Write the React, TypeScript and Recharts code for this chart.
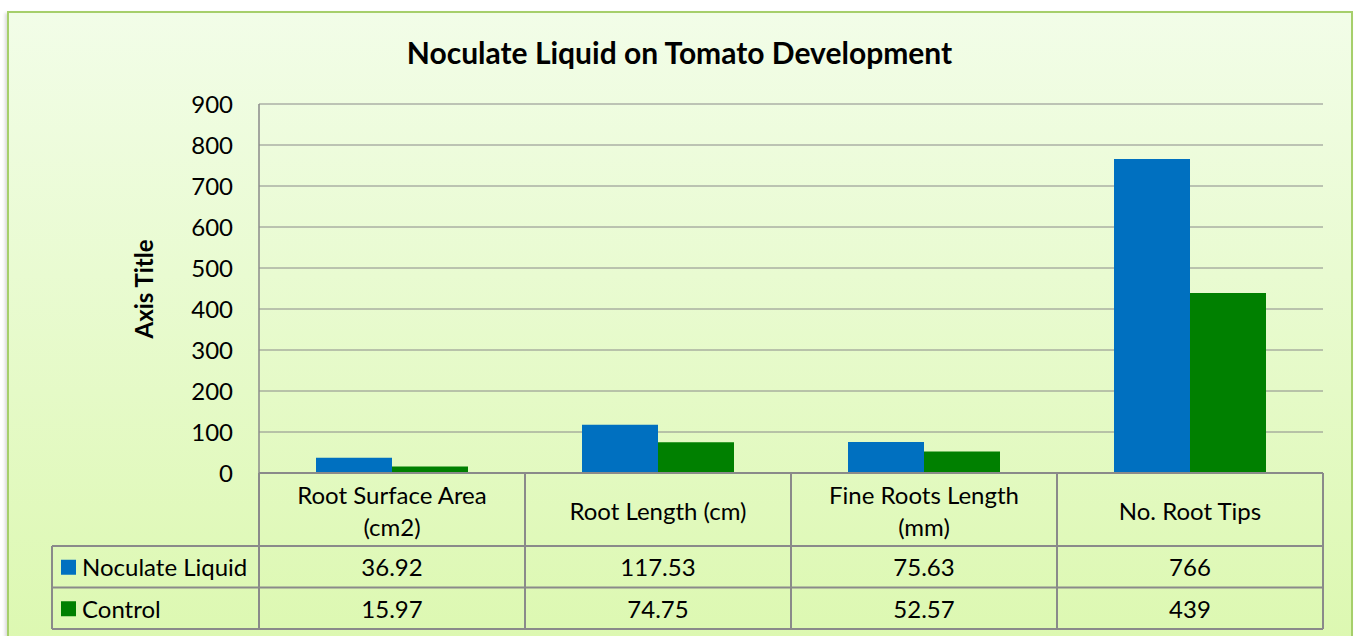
import { BarChart, Bar, XAxis, YAxis, CartesianGrid } from "recharts";

const categories = [
  "Root Surface Area (cm2)",
  "Root Length (cm)",
  "Fine Roots Length (mm)",
  "No. Root Tips",
];
const noculateLiquid = [36.92, 117.53, 75.63, 766];
const control = [15.97, 74.75, 52.57, 439];
const seriesNames = ["Noculate Liquid", "Control"];
const yTicks = [0, 100, 200, 300, 400, 500, 600, 700, 800, 900];

const BLUE = "#0070c0";
const GREEN = "#008000";
const LINE = "#8a8a8a";
const FONT = "Lato, 'Open Sans', sans-serif";
const FS = 24;

const W = 1359;
const H = 636;
const MARGIN = { top: 104, right: 36, left: 199, bottom: 0 };
const Y_AXIS_W = 60;
const X_AXIS_H = 163;
const BAND = (W - MARGIN.left - MARGIN.right - Y_AXIS_W) / categories.length;
const LEGEND_COL_W = 207;
const HEADER_H = 73;
const ROW_H = 41.5;
const WRAP_W = 215;
const LINE_H = 32;

const data = categories.map((name, i) => ({
  name,
  noculate: noculateLiquid[i],
  control: control[i],
}));

let ctx: CanvasRenderingContext2D | null = null;
function wrap(label: string): string[] {
  if (!ctx) ctx = document.createElement("canvas").getContext("2d");
  if (!ctx) return [label];
  ctx.font = `${FS}px ${FONT}`;
  const lines: string[] = [];
  let cur = "";
  for (const word of label.split(" ")) {
    const next = cur ? `${cur} ${word}` : word;
    if (cur && ctx.measureText(next).width > WRAP_W) {
      lines.push(cur);
      cur = word;
    } else {
      cur = next;
    }
  }
  if (cur) lines.push(cur);
  return lines;
}

function TableTick(props: any) {
  const { x, y, payload, index } = props;
  const i = payload?.index ?? index;
  const left = x - BAND / 2;
  const right = x + BAND / 2;
  const r1 = y + HEADER_H;
  const r2 = r1 + ROW_H;
  const r3 = r2 + ROW_H;
  const rows = [noculateLiquid[i], control[i]];
  const colors = [BLUE, GREEN];
  const lines = wrap(String(payload.value));
  const firstY = y + HEADER_H / 2 + 1 - ((lines.length - 1) * LINE_H) / 2;

  return (
    <g fontFamily={FONT} fontSize={FS} fill="#000">
      {lines.map((ln, k) => (
        <text
          key={k}
          x={x}
          y={firstY + k * LINE_H}
          textAnchor="middle"
          dominantBaseline="central"
        >
          {ln}
        </text>
      ))}
      <line x1={left} x2={left} y1={y} y2={r3} stroke={LINE} strokeWidth={2} />
      {i === categories.length - 1 && (
        <line x1={right} x2={right} y1={y} y2={r3} stroke={LINE} strokeWidth={2} />
      )}
      {[r1, r2, r3].map((ry) => (
        <line
          key={ry}
          x1={i === 0 ? left - LEGEND_COL_W : left}
          x2={right}
          y1={ry}
          y2={ry}
          stroke={LINE}
          strokeWidth={2}
        />
      ))}
      {i === 0 && (
        <line
          x1={left - LEGEND_COL_W}
          x2={left - LEGEND_COL_W}
          y1={r1}
          y2={r3}
          stroke={LINE}
          strokeWidth={2}
        />
      )}
      {rows.map((v, k) => (
        <text
          key={k}
          x={x}
          y={r1 + ROW_H * k + ROW_H / 2}
          textAnchor="middle"
          dominantBaseline="central"
        >
          {String(v)}
        </text>
      ))}
      {i === 0 &&
        seriesNames.map((s, k) => (
          <g key={s}>
            <rect
              x={left - LEGEND_COL_W + 9}
              y={r1 + ROW_H * k + ROW_H / 2 - 7}
              width={15}
              height={15}
              fill={colors[k]}
            />
            <text
              x={left - LEGEND_COL_W + 30}
              y={r1 + ROW_H * k + ROW_H / 2}
              dominantBaseline="central"
            >
              {s}
            </text>
          </g>
        ))}
    </g>
  );
}

export default function App() {
  return (
    <div
      style={{
        position: "absolute",
        left: 0,
        top: 0,
        width: W,
        height: H,
        overflow: "hidden",
        background: "#fff",
        fontFamily: FONT,
      }}
    >
      <div
        style={{
          position: "absolute",
          left: 7,
          top: 11,
          width: 1342,
          height: 640,
          border: "2px solid #a6cf6b",
          background: "linear-gradient(to bottom, #f2fde8 0%, #dcf8b0 100%)",
          boxShadow: "-2px 2px 3px rgba(0,0,0,0.15)",
        }}
      />
      <div
        style={{
          position: "absolute",
          left: 0,
          width: W,
          top: 34,
          textAlign: "center",
          fontWeight: "bold",
          fontSize: 30,
          color: "#000",
        }}
      >
        Noculate Liquid on Tomato Development
      </div>
      <div
        style={{
          position: "absolute",
          left: 143,
          top: 289,
          transform: "translate(-50%, -50%) rotate(-90deg)",
          fontWeight: "bold",
          fontSize: FS,
          whiteSpace: "nowrap",
          color: "#000",
        }}
      >
        Axis Title
      </div>
      <BarChart
        width={W}
        height={H}
        data={data}
        margin={MARGIN}
        barCategoryGap={57}
        barGap={0}
        style={{ position: "absolute", left: 0, top: 0 }}
      >
        <CartesianGrid vertical={false} stroke={LINE} strokeWidth={1} />
        <YAxis
          width={Y_AXIS_W}
          domain={[0, 900]}
          ticks={yTicks}
          interval={0}
          tickSize={0}
          tickMargin={26}
          axisLine={{ stroke: LINE, strokeWidth: 1.5 }}
          tick={{ fill: "#000", fontSize: FS, fontFamily: FONT }}
        />
        <XAxis
          dataKey="name"
          height={X_AXIS_H}
          interval={0}
          tickSize={0}
          tickMargin={0}
          axisLine={{ stroke: LINE, strokeWidth: 2 }}
          tick={<TableTick />}
        />
        <Bar dataKey="noculate" name={seriesNames[0]} fill={BLUE} isAnimationActive={false} />
        <Bar dataKey="control" name={seriesNames[1]} fill={GREEN} isAnimationActive={false} />
      </BarChart>
    </div>
  );
}
